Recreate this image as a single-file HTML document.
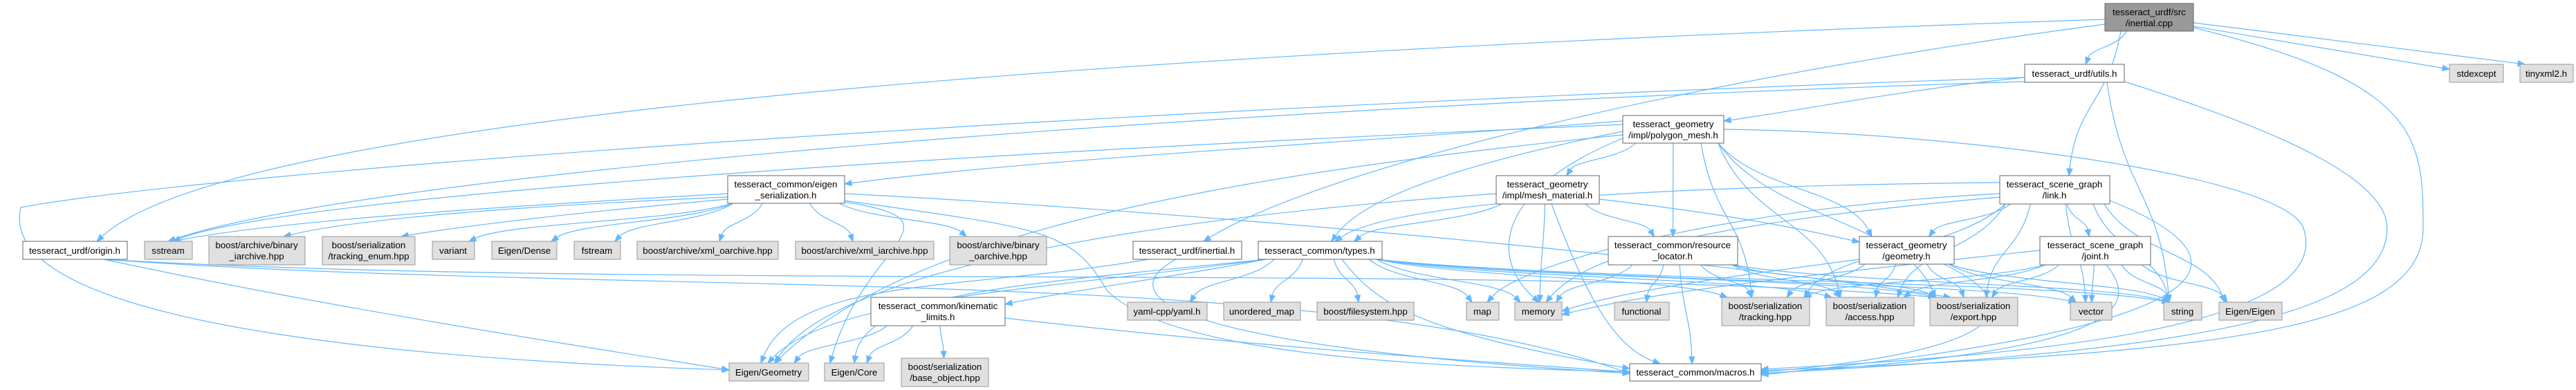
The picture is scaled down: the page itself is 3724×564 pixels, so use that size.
<!DOCTYPE html>
<html><head><meta charset="utf-8"><style>
html,body{margin:0;padding:0;background:#fff;}
svg{display:block;}
text{font-family:"Liberation Sans",sans-serif;font-size:13.33px;fill:#000;}
</style></head><body>
<svg id="g" width="3724" height="564" viewBox="0 0 3724 564" xmlns="http://www.w3.org/2000/svg">
<g id="edges" fill="none" stroke="#63b8ff" stroke-width="1.2"></g>
<g id="arrows" fill="#63b8ff" stroke="#63b8ff"></g>
<g id="nodes">
<rect x="3043" y="5" width="128" height="40" fill="#999" stroke="#666"/><text x="3107" y="22" text-anchor="middle">tesseract_urdf/src</text><text x="3107" y="38" text-anchor="middle">/inertial.cpp</text>
<rect x="2927" y="93" width="144" height="26" fill="#fff" stroke="#666"/><text x="2999" y="111" text-anchor="middle">tesseract_urdf/utils.h</text>
<rect x="3541" y="93" width="78" height="26" fill="#e0e0e0" stroke="#999"/><text x="3580" y="111" text-anchor="middle">stdexcept</text>
<rect x="3643" y="93" width="77" height="26" fill="#e0e0e0" stroke="#999"/><text x="3681" y="111" text-anchor="middle">tinyxml2.h</text>
<rect x="2346" y="167" width="146" height="40" fill="#fff" stroke="#666"/><text x="2419" y="184" text-anchor="middle">tesseract_geometry</text><text x="2419" y="200" text-anchor="middle">/impl/polygon_mesh.h</text>
<rect x="1052" y="254" width="169" height="40" fill="#fff" stroke="#666"/><text x="1136" y="271" text-anchor="middle">tesseract_common/eigen</text><text x="1136" y="287" text-anchor="middle">_serialization.h</text>
<rect x="2163" y="254" width="149" height="41" fill="#fff" stroke="#666"/><text x="2237" y="271" text-anchor="middle">tesseract_geometry</text><text x="2237" y="287" text-anchor="middle">/impl/mesh_material.h</text>
<rect x="2891" y="254" width="159" height="41" fill="#fff" stroke="#666"/><text x="2970" y="271" text-anchor="middle">tesseract_scene_graph</text><text x="2970" y="287" text-anchor="middle">/link.h</text>
<rect x="33" y="349" width="151" height="26" fill="#fff" stroke="#666"/><text x="108" y="367" text-anchor="middle">tesseract_urdf/origin.h</text>
<rect x="209" y="349" width="69" height="26" fill="#e0e0e0" stroke="#999"/><text x="243" y="367" text-anchor="middle">sstream</text>
<rect x="302" y="342" width="139" height="41" fill="#e0e0e0" stroke="#999"/><text x="371" y="359" text-anchor="middle">boost/archive/binary</text><text x="371" y="375" text-anchor="middle">_iarchive.hpp</text>
<rect x="466" y="342" width="134" height="41" fill="#e0e0e0" stroke="#999"/><text x="533" y="359" text-anchor="middle">boost/serialization</text><text x="533" y="375" text-anchor="middle">/tracking_enum.hpp</text>
<rect x="625" y="349" width="61" height="26" fill="#e0e0e0" stroke="#999"/><text x="655" y="367" text-anchor="middle">variant</text>
<rect x="711" y="349" width="94" height="26" fill="#e0e0e0" stroke="#999"/><text x="758" y="367" text-anchor="middle">Eigen/Dense</text>
<rect x="830" y="349" width="67" height="26" fill="#e0e0e0" stroke="#999"/><text x="863" y="367" text-anchor="middle">fstream</text>
<rect x="921" y="349" width="204" height="26" fill="#e0e0e0" stroke="#999"/><text x="1023" y="367" text-anchor="middle">boost/archive/xml_oarchive.hpp</text>
<rect x="1150" y="349" width="200" height="26" fill="#e0e0e0" stroke="#999"/><text x="1250" y="367" text-anchor="middle">boost/archive/xml_iarchive.hpp</text>
<rect x="1373" y="342" width="140" height="41" fill="#e0e0e0" stroke="#999"/><text x="1443" y="359" text-anchor="middle">boost/archive/binary</text><text x="1443" y="375" text-anchor="middle">_oarchive.hpp</text>
<rect x="1638" y="349" width="157" height="26" fill="#fff" stroke="#666"/><text x="1716" y="367" text-anchor="middle">tesseract_urdf/inertial.h</text>
<rect x="1819" y="349" width="179" height="26" fill="#fff" stroke="#666"/><text x="1908" y="367" text-anchor="middle">tesseract_common/types.h</text>
<rect x="2325" y="342" width="187" height="41" fill="#fff" stroke="#666"/><text x="2418" y="359" text-anchor="middle">tesseract_common/resource</text><text x="2418" y="375" text-anchor="middle">_locator.h</text>
<rect x="2688" y="342" width="137" height="40" fill="#fff" stroke="#666"/><text x="2756" y="359" text-anchor="middle">tesseract_geometry</text><text x="2756" y="375" text-anchor="middle">/geometry.h</text>
<rect x="2949" y="342" width="160" height="41" fill="#fff" stroke="#666"/><text x="3029" y="359" text-anchor="middle">tesseract_scene_graph</text><text x="3029" y="375" text-anchor="middle">/joint.h</text>
<rect x="1259" y="430" width="194" height="41" fill="#fff" stroke="#666"/><text x="1356" y="447" text-anchor="middle">tesseract_common/kinematic</text><text x="1356" y="463" text-anchor="middle">_limits.h</text>
<rect x="1630" y="437" width="115" height="26" fill="#e0e0e0" stroke="#999"/><text x="1687" y="455" text-anchor="middle">yaml-cpp/yaml.h</text>
<rect x="1769" y="437" width="111" height="26" fill="#e0e0e0" stroke="#999"/><text x="1824" y="455" text-anchor="middle">unordered_map</text>
<rect x="1904" y="437" width="140" height="26" fill="#e0e0e0" stroke="#999"/><text x="1974" y="455" text-anchor="middle">boost/filesystem.hpp</text>
<rect x="2120" y="437" width="47" height="26" fill="#e0e0e0" stroke="#999"/><text x="2143" y="455" text-anchor="middle">map</text>
<rect x="2190" y="437" width="68" height="26" fill="#e0e0e0" stroke="#999"/><text x="2224" y="455" text-anchor="middle">memory</text>
<rect x="2334" y="437" width="79" height="26" fill="#e0e0e0" stroke="#999"/><text x="2373" y="455" text-anchor="middle">functional</text>
<rect x="2489" y="430" width="127" height="41" fill="#e0e0e0" stroke="#999"/><text x="2552" y="447" text-anchor="middle">boost/serialization</text><text x="2552" y="463" text-anchor="middle">/tracking.hpp</text>
<rect x="2640" y="430" width="127" height="41" fill="#e0e0e0" stroke="#999"/><text x="2703" y="447" text-anchor="middle">boost/serialization</text><text x="2703" y="463" text-anchor="middle">/access.hpp</text>
<rect x="2790" y="430" width="127" height="41" fill="#e0e0e0" stroke="#999"/><text x="2853" y="447" text-anchor="middle">boost/serialization</text><text x="2853" y="463" text-anchor="middle">/export.hpp</text>
<rect x="2993" y="437" width="60" height="26" fill="#e0e0e0" stroke="#999"/><text x="3023" y="455" text-anchor="middle">vector</text>
<rect x="3128" y="437" width="55" height="26" fill="#e0e0e0" stroke="#999"/><text x="3155" y="455" text-anchor="middle">string</text>
<rect x="3208" y="437" width="91" height="26" fill="#e0e0e0" stroke="#999"/><text x="3253" y="455" text-anchor="middle">Eigen/Eigen</text>
<rect x="1054" y="525" width="115" height="26" fill="#e0e0e0" stroke="#999"/><text x="1111" y="543" text-anchor="middle">Eigen/Geometry</text>
<rect x="1192" y="525" width="86" height="26" fill="#e0e0e0" stroke="#999"/><text x="1235" y="543" text-anchor="middle">Eigen/Core</text>
<rect x="1303" y="518" width="126" height="41" fill="#e0e0e0" stroke="#999"/><text x="1366" y="535" text-anchor="middle">boost/serialization</text><text x="1366" y="551" text-anchor="middle">/base_object.hpp</text>
<rect x="2356" y="526" width="190" height="25" fill="#fff" stroke="#666"/><text x="2451" y="543" text-anchor="middle">tesseract_common/macros.h</text>
</g>
</svg>
<script>
var N={cpp:[3043,5,3171,45],utils:[2927,93,3071,119],stdexcept:[3541,93,3619,119],tiny:[3643,93,3720,119],
poly:[2346,167,2492,207],eig:[1052,254,1221,294],mesh:[2163,254,2312,295],link:[2891,254,3050,295],
origin:[33,349,184,375],sstream:[209,349,278,375],biarch:[302,342,441,383],trenum:[466,342,600,383],variant:[625,349,686,375],
edense:[711,349,805,375],fstream:[830,349,897,375],xmlo:[921,349,1125,375],xmli:[1150,349,1350,375],boarch:[1373,342,1513,383],
inertialh:[1638,349,1795,375],types:[1819,349,1998,375],resloc:[2325,342,2512,383],geom:[2688,342,2825,382],joint:[2949,342,3109,383],
kin:[1259,430,1453,471],yaml:[1630,437,1745,463],umap:[1769,437,1880,463],fs:[1904,437,2044,463],map:[2120,437,2167,463],
memory:[2190,437,2258,463],functional:[2334,437,2413,463],tracking:[2489,430,2616,471],access:[2640,430,2767,471],export:[2790,430,2917,471],
vector:[2993,437,3053,463],string:[3128,437,3183,463],eeigen:[3208,437,3299,463],egeom:[1054,525,1169,551],ecore:[1192,525,1278,551],
baseobj:[1303,518,1429,559],macros:[2356,526,2546,551]};
var E=[
['cpp','origin',[3043,28,1200,90,300,200,140,349]],
['cpp','inertialh',[3043,35,2400,120,1900,250,1740,349]],
['cpp','utils'],['cpp','link'],['cpp','stdexcept',[3171,38,3300,60,3450,85,3541,100]],['cpp','tiny',[3171,33,3350,55,3550,80,3650,93]],
['cpp','macros',[3171,40,3500,120,3503,200,3503,330,3503,480,3200,510,2546,536]],
['utils','poly',[2927,112,2750,130,2600,160,2492,175]],
['utils','sstream',[2927,118,1600,160,500,260,243,349]],
['utils','egeom',[2927,112,1500,160,300,250,30,300,-10,470,600,520,1054,535]],
['utils','string'],
['utils','macros',[3071,118,3300,190,3451,260,3451,330,3451,470,3100,510,2546,540]],
['poly','eig',[2346,175,1900,210,1500,230,1221,266]],
['poly','sstream',[2346,180,1200,230,400,290,250,349]],
['poly','mesh'],['poly','types',[2346,190,2050,250,1960,300,1925,349]],['poly','resloc'],['poly','memory',[2346,200,2150,280,2160,380,2225,437]],
['poly','geom'],['poly','tracking'],['poly','access'],['poly','export'],
['poly','macros',[2492,187,2800,190,3300,250,3330,330,3380,480,2900,515,2546,534]],
['poly','egeom',[2346,195,1700,260,1300,350,1120,525]],
['eig','sstream',[1052,280,700,300,400,320,250,349]],['eig','biarch',[1052,285,700,300,500,320,410,342]],['eig','trenum',[1052,288,800,310,650,330,580,342]],
['eig','variant'],['eig','edense'],['eig','fstream'],['eig','xmlo'],['eig','xmli'],['eig','boarch'],
['eig','export',[1221,280,1800,310,2500,380,2820,430]],
['eig','macros',[1221,290,1500,330,1550,330,1600,420,1700,520,2100,530,2356,538]],
['eig','ecore',[1221,292,1400,320,1250,350,1200,525]],
['mesh','types'],['mesh','resloc'],['mesh','memory'],['mesh','geom',[2312,288,2500,310,2600,330,2688,350]],
['mesh','macros',[2243,295,2290,420,2330,500,2400,526]],['mesh','egeom',[2163,280,1600,320,1200,400,1120,525]],
['types','kin',[1830,375,1700,400,1550,420,1453,440]],['types','yaml'],['types','umap'],['types','fs'],['types','map'],['types','memory'],
['types','macros',[1940,375,1990,440,2050,480,2356,533]],['types','tracking'],['types','access'],['types','export'],['types','vector'],['types','string'],
['types','egeom',[1830,375,1500,420,1200,430,1110,525]],['types','ecore',[1830,375,1500,410,1250,420,1235,525]],
['kin','egeom'],['kin','ecore'],['kin','baseobj'],['kin','macros',[1453,460,1800,500,2100,520,2356,538]],
['resloc','memory'],['resloc','functional'],['resloc','macros'],['resloc','tracking'],['resloc','access'],['resloc','export'],['resloc','string'],
['geom','memory',[2688,375,2500,400,2350,420,2258,450]],['geom','tracking'],['geom','access'],['geom','export'],['geom','vector'],['geom','string'],
['geom','macros',[2810,382,2950,450,2880,510,2546,538]],
['link','geom'],['link','joint'],['link','memory',[2891,285,2500,320,2300,360,2235,437]],['link','map',[2891,280,2500,300,2200,380,2150,437]],
['link','tracking'],['link','access'],['link','export'],['link','vector'],['link','string'],['link','eeigen'],
['link','macros',[3050,290,3250,370,3260,470,2546,542]],['link','types',[2891,264,2300,270,2000,300,1930,349]],
['joint','memory',[2949,362,2600,400,2400,420,2258,455]],['joint','tracking'],['joint','access'],['joint','export'],['joint','vector'],['joint','string'],['joint','eeigen'],
['joint','macros',[3045,383,3100,450,3050,510,2546,540]],
['origin','egeom',[150,375,500,450,900,510,1054,535]],
['origin','macros',[150,375,900,430,1900,380,2356,540]],
['origin','export',[150,375,900,420,2200,380,2800,430]],
['inertialh','macros',[1700,375,1600,430,1700,500,2356,540]],
['inertialh','egeom',[1660,375,1400,420,1150,400,1100,525]]
];
var eg=document.getElementById('edges'),ag=document.getElementById('arrows'),ns='http://www.w3.org/2000/svg';
function cl(v,a,b){return Math.max(a,Math.min(b,v));}
E.forEach(function(e){
 var s=N[e[0]],t=N[e[1]],p=e[2],d;
 if(!p){
  var scx=(s[0]+s[2])/2,tcx=(t[0]+t[2])/2;
  var sx=cl(scx+(tcx-scx)*0.3,s[0]+8,s[2]-8),sy=s[3];
  var tx=cl(tcx+(scx-tcx)*0.15,t[0]+8,t[2]-8),ty=t[1];
  var my=(sy+ty)/2;
  p=[sx,sy,sx+(tx-sx)*0.25,my,tx-(tx-sx)*0.15,my,tx,ty];
 }
 d='M'+p[0]+','+p[1];
 for(var i=2;i<p.length;i+=6){d+=' C'+p[i]+','+p[i+1]+' '+p[i+2]+','+p[i+3]+' '+p[i+4]+','+p[i+5];}
 var n=p.length,ex=p[n-2],ey=p[n-1],cx=p[n-4],cy=p[n-3];
 var dx=ex-cx,dy=ey-cy,L=Math.sqrt(dx*dx+dy*dy)||1;dx/=L;dy/=L;
 var bx=ex-dx*10,by=ey-dy*10;
 var pe=document.createElementNS(ns,'path');pe.setAttribute('d',d.replace(/([\d.]+),([\d.]+)$/,bx+','+by));eg.appendChild(pe);
 var pl=document.createElementNS(ns,'polygon');
 pl.setAttribute('points',ex+','+ey+' '+(bx-dy*4)+','+(by+dx*4)+' '+(bx+dy*4)+','+(by-dx*4));ag.appendChild(pl);
});
</script>
</body></html>
